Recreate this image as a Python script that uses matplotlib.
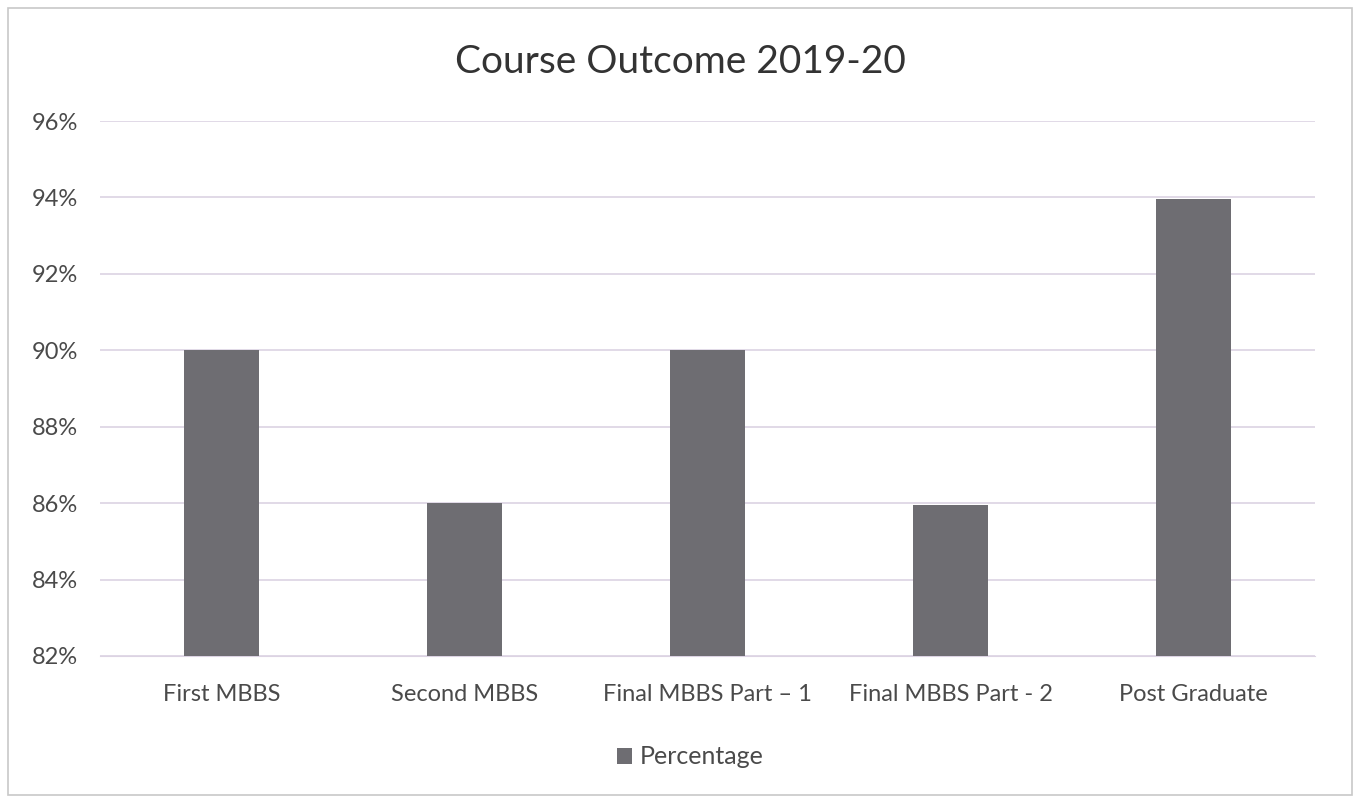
import matplotlib
matplotlib.use("Agg")
import matplotlib.pyplot as plt
from matplotlib.ticker import FuncFormatter, MultipleLocator
from matplotlib.patches import Rectangle

categories = ["First MBBS", "Second MBBS", "Final MBBS Part – 1", "Final MBBS Part - 2", "Post Graduate"]
percentage = [90.0, 86.0, 90.0, 85.95, 93.95]
title = "Course Outcome 2019-20"
series_name = "Percentage"

plt.rcParams['font.family'] = ['Lato', 'DejaVu Sans']
text_color = "#4a4a4a"
bar_color = "#6e6d72"
grid_color = "#dcd3e3"

fig = plt.figure(figsize=(13.6, 8.01), dpi=100)
fig.patch.set_facecolor("white")
ax = fig.add_axes([100/1360, 1-656/801, 1215/1360, (656-121)/801])

x = list(range(len(categories)))
ax.bar(x, percentage, width=0.31, color=bar_color, label=series_name, zorder=3)

ax.set_xlim(-0.5, len(categories)-0.5)
ax.set_ylim(82, 96)
ax.yaxis.set_major_locator(MultipleLocator(2))
ax.yaxis.set_major_formatter(FuncFormatter(lambda v, p: f"{v:.0f}%"))
ax.grid(axis='y', color=grid_color, linewidth=1.2, zorder=0)
ax.set_xticks(x)
ax.set_xticklabels(categories)
for s in ax.spines.values():
    s.set_visible(False)
ax.spines['bottom'].set_visible(True)
ax.spines['bottom'].set_color(grid_color)
ax.tick_params(axis='both', length=0, labelsize=17, colors=text_color)
ax.tick_params(axis='y', pad=16)
ax.tick_params(axis='x', pad=20)

fig.text(680/1360, 1-62/801, title, ha='center', va='center', fontsize=28, color="#333333")

leg = fig.legend(loc='center', bbox_to_anchor=(690/1360, 1-757/801), frameon=False,
                 fontsize=18, handlelength=0.6, handleheight=0.6, handletextpad=0.3)
for t in leg.get_texts():
    t.set_color(text_color)

fig.add_artist(Rectangle((8/1360, 6/801), 1344/1360, 787/801, transform=fig.transFigure,
                         fill=False, edgecolor="#c8c8c8", linewidth=1.2))

fig.savefig("out.png", dpi=100)
